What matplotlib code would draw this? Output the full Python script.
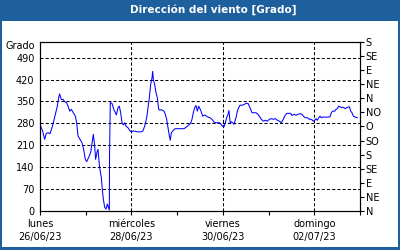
import matplotlib
matplotlib.use("Agg")
import matplotlib.pyplot as plt
from matplotlib.patches import Rectangle

# hours since lunes 26/06/23 00:00, and wind direction in degrees
hours = [0.35, 1.4, 2.45, 3.3, 4.2, 5.25, 6.3, 7.0, 8.05, 9.1, 9.8, 10.3, 11.2, 12.25,
         12.95, 14.0, 14.7, 15.6, 16.45, 17.5, 18.55, 19.25, 19.95, 21.0, 22.05, 22.9,
         23.8, 24.5, 25.55, 26.6, 27.5, 28.0, 28.7, 29.2, 29.9, 30.45, 31.0, 31.3,
         32.2, 32.7, 33.25, 33.95, 34.65, 35.35, 35.9, 36.4, 36.5, 36.9,
         37.1, 37.8, 38.7, 39.55, 40.1, 40.95, 41.65, 42.35, 43.05, 43.75, 44.45, 45.15,
         46.2, 47.25, 47.95, 49.0, 51.1, 53.2, 54.05, 54.95, 56.0, 56.7, 57.4, 58.1,
         58.8, 59.15, 59.5, 60.2, 60.9, 61.6, 62.3, 63.0,
         63.7, 65.1, 65.8, 66.5, 67.2, 67.9, 68.4, 68.95, 70.0, 71.05, 72.45, 74.2,
         75.6, 76.8, 78.05, 79.1, 79.8, 80.5, 81.2, 81.9, 82.6, 83.3, 84.35, 85.4,
         86.45, 87.85, 89.25, 90.3, 91.35, 92.4, 94.15,
         94.85, 95.55, 96.6, 97.3, 98.0, 98.7, 99.2, 99.6, 99.9, 100.45, 101.15, 101.85,
         102.9, 103.6, 104.3, 105.0, 106.05, 107.1, 108.15, 109.2, 109.9, 110.6, 111.3,
         112.35, 113.4, 114.45, 115.15, 116.2, 117.25, 118.3, 119.35, 120.4, 121.45,
         122.5, 123.55, 124.6, 125.65, 126.7, 127.75, 128.45, 129.5, 130.9,
         131.6, 132.3, 133.35, 134.4, 135.45, 136.5, 137.55, 138.25, 139.3, 140.35,
         141.4, 142.45, 143.5, 144.2, 144.9, 145.6, 146.3, 147.0, 147.7, 148.4, 149.8,
         151.2, 152.25, 152.95, 153.65, 154.7, 155.4, 156.1, 156.8, 157.5, 158.2, 158.9,
         159.6, 160.3, 161.0, 161.7, 162.4, 163.1, 163.8, 164.5, 165.55, 166.6]
direction = [271, 255, 229, 248, 250, 247, 266, 282, 309, 335, 362, 374, 356, 356,
             349, 346, 335, 319, 325, 314, 303, 282, 240, 229, 218, 197,
             165, 158, 171, 187, 224, 245, 208, 165, 187, 197, 160, 139,
             107, 70, 38, 12, 6, 22, 12, 3, 171, 346,
             346, 344, 325, 314, 307, 330, 335, 314, 282, 275, 282, 271,
             266, 256, 253, 256, 253, 253, 256, 271, 298, 330, 362, 404,
             425, 446, 420, 404, 378, 362, 325, 322,
             324, 319, 309, 293, 266, 240, 226, 250, 258, 263, 263, 263,
             263, 268, 275, 280, 293, 314, 330, 337, 319, 335, 322, 303,
             307, 301, 298, 293, 284, 282, 282,
             279, 272, 269, 282, 298, 309, 321, 298, 279, 285, 282, 277,
             298, 319, 330, 338, 338, 340, 344, 344, 335, 325, 314,
             314, 314, 309, 303, 293, 287, 290, 287, 293, 295,
             293, 295, 290, 287, 282, 293, 303, 312, 312,
             312, 305, 309, 306, 309, 311, 309, 303, 298, 298,
             293, 293, 287, 290, 295, 290, 298, 303, 298, 300, 300,
             300, 301, 314, 319, 319, 325, 327, 335, 333, 330, 332,
             330, 327, 330, 332, 333, 319, 314, 303, 300, 298]

day_names = ["lunes", "miércoles", "viernes", "domingo"]
day_dates = ["26/06/23", "28/06/23", "30/06/23", "02/07/23"]
compass = ["N", "NE", "E", "SE", "S", "SO", "O", "NO", "N", "NE", "E", "SE", "S"]

frame_blue = "#1e5f9e"

fig = plt.figure(figsize=(4, 2.5), dpi=100, facecolor=frame_blue)
fig.patches.append(Rectangle((2 / 400, 3 / 250), 396 / 400, 226 / 250,
                             transform=fig.transFigure, facecolor="white",
                             edgecolor="none", zorder=-10))
fig.text(213 / 400, 1 - 10 / 250, "Dirección del viento [Grado]", color="white",
         fontsize=7.5, fontweight="bold", ha="center", va="center")

ax = fig.add_axes([40 / 400, 1 - 211 / 250, 320 / 400, 169 / 250])
ax.set_facecolor("white")
ax.plot(hours, direction, color="#0000ff", lw=0.75)

ax.set_xlim(0, 168)
ax.set_ylim(0, 540)

# grid lines drawn by hand so only the inner ones show
for v in range(70, 491, 70):
    ax.axhline(v, color="black", lw=0.75, ls=(0, (3, 2)), zorder=0)
for h in [48, 96, 144]:
    ax.axvline(h, color="black", lw=0.75, ls=(0, (3, 2)), zorder=0)

for s in ["left", "right", "top", "bottom"]:
    ax.spines[s].set_linewidth(0.8)

ax.set_yticks(range(0, 491, 70))
ax.tick_params(axis="y", length=0, pad=4, labelsize=7)
ax.text(-0.015, 0.975, "Grado", transform=ax.transAxes, ha="right", va="center",
        fontsize=7)

ax.set_xticks(range(0, 169, 24), minor=True)
ax.set_xticks([0, 48, 96, 144])
ax.set_xticklabels([f"{n}\n{d}" for n, d in zip(day_names, day_dates)],
                   fontsize=7, linespacing=1.35)
ax.tick_params(axis="x", which="both", length=3, width=0.8, pad=3)

ax2 = ax.twinx()
ax2.set_ylim(0, 540)
ax2.set_yticks(range(0, 541, 45))
ax2.set_yticklabels(compass)
ax2.tick_params(axis="y", length=3, width=0.8, pad=1, labelsize=7)
for s in ax2.spines.values():
    s.set_linewidth(0.8)

fig.savefig("out.png", dpi=100, facecolor=frame_blue)
